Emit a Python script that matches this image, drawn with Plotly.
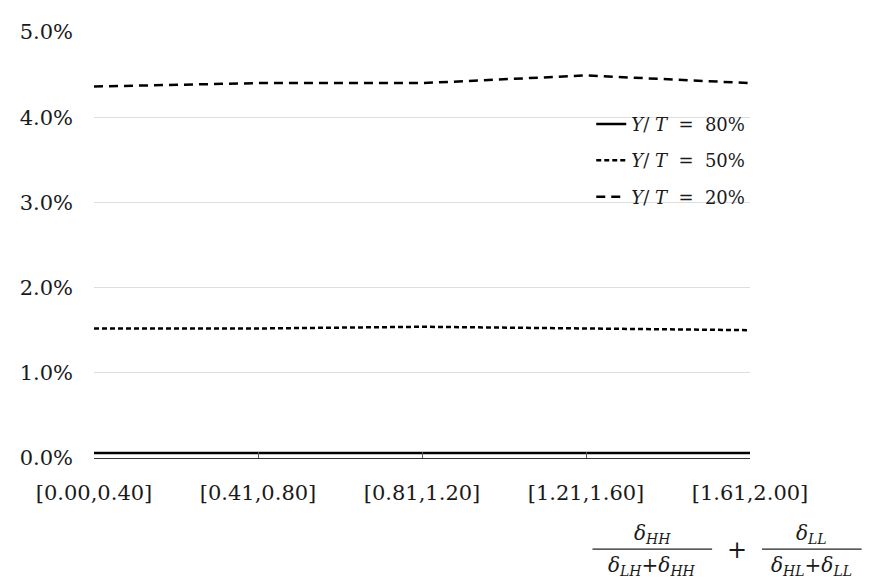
import plotly.graph_objects as go

categories = ["[0.00,0.40]", "[0.41,0.80]", "[0.81,1.20]", "[1.21,1.60]", "[1.61,2.00]"]
yt80 = [0.0006, 0.0006, 0.0006, 0.0006, 0.0006]
yt50 = [0.0152, 0.0152, 0.0154, 0.0152, 0.0150]
yt20 = [0.0436, 0.0440, 0.0440, 0.0449, 0.0440]
y_ticks = [0.0, 0.01, 0.02, 0.03, 0.04, 0.05]
y_ticktext = ["0.0%", "1.0%", "2.0%", "3.0%", "4.0%", "5.0%"]
names = ["80%", "50%", "20%"]

FONT = "DejaVu Serif"
NB = "\u00a0"
xs = list(range(len(categories)))

def lname(p):
    return f"<i>Y</i>/{NB}<i>T</i>{NB}{NB}={NB}{NB}{p}"

fig = go.Figure()
fig.add_trace(go.Scatter(x=xs, y=yt80, mode="lines", name=lname(names[0]), legendgroup="a",
                         line=dict(color="black", width=2.5)))
fig.add_trace(go.Scatter(x=xs, y=yt50, mode="lines", name=lname(names[1]), legendgroup="b",
                         line=dict(color="black", width=2.5, dash="5px,3px")))
fig.add_trace(go.Scatter(x=xs, y=yt20, mode="lines", name=lname(names[2]), legendgroup="c",
                         line=dict(color="black", width=2.5, dash="9px,6px")))

# page offset of 8px (body margin) is compensated in the margins
OFF = 8
W, H = 870, 581
l, t = 92 - OFF, 23 - OFF
plot_r, plot_b = 750 - OFF, 458 - OFF
r, b = W - plot_r, H - plot_b
pw, ph = plot_r - l, plot_b - t

fig.update_layout(
    width=W, height=H,
    margin=dict(l=l, r=r, t=t, b=b),
    plot_bgcolor="white", paper_bgcolor="white",
    font=dict(family=FONT, size=21, color="#1a1a1a"),
    showlegend=True,
    legend=dict(x=0.758, y=0.827, xanchor="left", yanchor="top",
                font=dict(family=FONT, size=18, color="#1a1a1a"),
                bgcolor="rgba(0,0,0,0)", tracegroupgap=10, itemwidth=30),
    xaxis=dict(range=[0, 4], tickvals=xs, ticktext=categories, showgrid=False,
               showline=True, linecolor="#333", linewidth=1.2,
               ticks="inside", ticklen=6, tickcolor="#555", tickwidth=1,
               ticklabelstandoff=16, zeroline=False, fixedrange=True,
               tickfont=dict(family=FONT, size=21)),
    yaxis=dict(range=[0, 0.05], tickvals=y_ticks, ticktext=y_ticktext,
               showgrid=True, gridcolor="#dedede", gridwidth=1,
               zeroline=False, showline=False, ticks="",
               ticklabelstandoff=20, fixedrange=True,
               tickfont=dict(family=FONT, size=21)),
)

def px(xp):
    return (xp - OFF - l) / pw
def py(yp):
    return (plot_b - (yp - OFF)) / ph

title_parts = [
    (652, "<i>δ</i><sub><i>HH</i></sub>", "<i>δ</i><sub><i>LH</i></sub>+<i>δ</i><sub><i>HH</i></sub>", 592, 712),
    (812, "<i>δ</i><sub><i>LL</i></sub>", "<i>δ</i><sub><i>HL</i></sub>+<i>δ</i><sub><i>LL</i></sub>", 762, 862),
]
for xc, num, den, x0, x1 in title_parts:
    fig.add_annotation(x=px(xc), y=py(536), xref="paper", yref="paper", text=num,
                       showarrow=False, font=dict(family=FONT, size=20),
                       xanchor="center", yanchor="middle")
    fig.add_annotation(x=px(xc), y=py(568), xref="paper", yref="paper", text=den,
                       showarrow=False, font=dict(family=FONT, size=20),
                       xanchor="center", yanchor="middle")
    fig.add_shape(type="line", xref="paper", yref="paper", x0=px(x0), x1=px(x1),
                  y0=py(551), y1=py(551), line=dict(color="#222", width=1.2))
fig.add_annotation(x=px(737), y=py(552), xref="paper", yref="paper", text="+",
                   showarrow=False, font=dict(family=FONT, size=24),
                   xanchor="center", yanchor="middle")

fig.write_html("out.html")
